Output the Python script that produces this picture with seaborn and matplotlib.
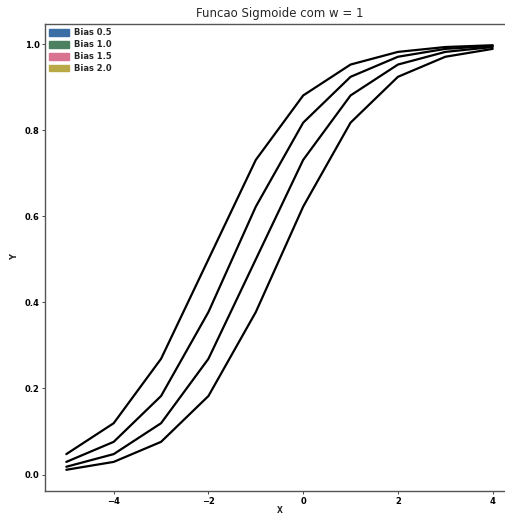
import matplotlib
matplotlib.use("Agg")
import matplotlib.pyplot as plt
import seaborn as sns
import pandas as pd
from matplotlib.patches import Patch

x_vals = [-5, -4, -3, -2, -1, 0, 1, 2, 3, 4]
bias_05 = [0.0110, 0.0293, 0.0759, 0.1824, 0.3775, 0.6225, 0.8176, 0.9241, 0.9707, 0.9890]
bias_10 = [0.0180, 0.0474, 0.1192, 0.2689, 0.5000, 0.7311, 0.8808, 0.9526, 0.9820, 0.9933]
bias_15 = [0.0293, 0.0759, 0.1824, 0.3775, 0.6225, 0.8176, 0.9241, 0.9707, 0.9890, 0.9959]
bias_20 = [0.0474, 0.1192, 0.2689, 0.5000, 0.7311, 0.8808, 0.9526, 0.9820, 0.9933, 0.9975]
labels = ["Bias 0.5", "Bias 1.0", "Bias 1.5", "Bias 2.0"]
legend_colors = ["#3a6ea5", "#4b8060", "#d87390", "#b8a946"]

series = [bias_05, bias_10, bias_15, bias_20]
rows = []
for lab, ys in zip(labels, series):
    for xv, yv in zip(x_vals, ys):
        rows.append({"X": xv, "Y": yv, "Bias": lab})
df = pd.DataFrame(rows)

sns.set_style("white")
plt.rcParams["font.family"] = ["DejaVu Sans"]

fig = plt.figure(figsize=(5.05, 5.15), dpi=100)
ax = fig.add_axes([45 / 505, 24 / 515, 469 / 505, 467 / 515])

sns.lineplot(data=df, x="X", y="Y", hue="Bias", palette=["black"] * 4,
             linewidth=1.6, legend=False, ax=ax)

ax.set_title("Funcao Sigmoide com w = 1", fontsize=8.5, pad=5)
ax.set_xlabel("X", fontsize=5.5, fontweight="bold", labelpad=0)
ax.set_ylabel("Y", fontsize=6, fontweight="bold")
ax.set_xticks([-4, -2, 0, 2, 4])
ax.set_yticks([0.0, 0.2, 0.4, 0.6, 0.8, 1.0])
ax.set_yticklabels(["0.0", "0.2", "0.4", "0.6", "0.8", "1.0"])
ax.tick_params(axis="both", labelsize=6, length=2, width=0.6, direction="out",
               left=True, bottom=True, pad=2, labelcolor="black")
for lab in ax.get_xticklabels() + ax.get_yticklabels():
    lab.set_fontweight("bold")
for sp in ax.spines.values():
    sp.set_color("#555555")
    sp.set_linewidth(1.0)

handles = [Patch(facecolor=c, edgecolor=c, label=l) for c, l in zip(legend_colors, labels)]
ax.legend(handles=handles, loc="upper left", frameon=False,
          prop={"size": 6, "weight": "bold"}, handlelength=2.4, handleheight=0.9,
          labelspacing=0.35, handletextpad=0.6, borderaxespad=0.3, borderpad=0.2)

fig.savefig("out.png", dpi=100)
